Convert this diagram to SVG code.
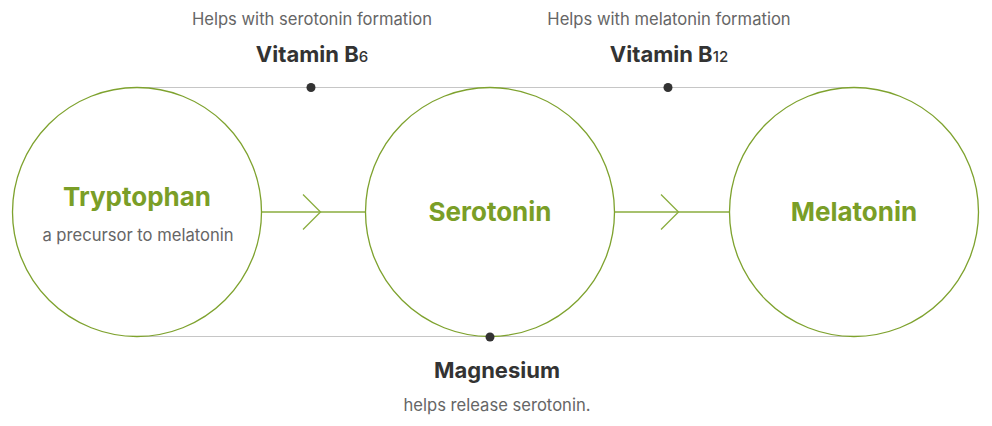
<svg xmlns="http://www.w3.org/2000/svg" width="992" height="426" viewBox="0 0 992 426">
<style>
.node{fill:#fff;stroke:#7ea22e;stroke-width:1.3}
.guide{stroke:#c6c6c6;stroke-width:1.2;fill:none}
.flow{stroke:#8aad3e;stroke-width:1.3;fill:none}
.dot{fill:#333}
.title{font-family:Inter,"Noto Sans",sans-serif;font-weight:700;fill:#7a9e27;text-anchor:middle}
.sub{font-family:Inter,"Noto Sans",sans-serif;font-size:16.6px;fill:#666;text-anchor:middle}
.label{font-family:Inter,"Noto Sans",sans-serif;font-weight:700;font-size:22px;fill:#333;text-anchor:middle}
</style>
<rect width="992" height="426" fill="#fff"/>
<g id="connectors">
<line class="guide" x1="137" y1="87.5" x2="854" y2="87.5"/>
<line class="guide" x1="137" y1="336.5" x2="854" y2="336.5"/>
<line class="flow" x1="262" y1="212" x2="366" y2="212"/>
<polyline class="flow" points="303,194.5 320.5,212 303,229.5"/>
<line class="flow" x1="614" y1="212" x2="730" y2="212"/>
<polyline class="flow" points="661,194.5 678.5,212 661,229.5"/>
</g>
<g id="tryptophan">
<circle class="node" cx="137" cy="212" r="124.5"/>
<text class="title" x="137" y="206" font-size="26">Tryptophan</text>
<text class="sub" x="138" y="241">a precursor to melatonin</text>
</g>
<g id="serotonin">
<circle class="node" cx="490" cy="212" r="124.5"/>
<text class="title" x="490" y="221" font-size="26">Serotonin</text>
</g>
<g id="melatonin">
<circle class="node" cx="854" cy="212" r="124.5"/>
<text class="title" x="854" y="221" font-size="26">Melatonin</text>
</g>
<g id="vitamin-b6">
<circle class="dot" cx="311" cy="87.5" r="4.5"/>
<text class="sub" x="312" y="25">Helps with serotonin formation</text>
<text class="label" x="312" y="62">Vitamin B<tspan font-size="15" font-weight="500">6</tspan></text>
</g>
<g id="vitamin-b12">
<circle class="dot" cx="668" cy="87.5" r="4.5"/>
<text class="sub" x="669" y="25">Helps with melatonin formation</text>
<text class="label" x="669" y="62">Vitamin B<tspan font-size="15" font-weight="500">12</tspan></text>
</g>
<g id="magnesium">
<circle class="dot" cx="490" cy="337" r="4.5"/>
<text class="label" x="497" y="378">Magnesium</text>
<text class="sub" x="497" y="411">helps release serotonin.</text>
</g>
</svg>
